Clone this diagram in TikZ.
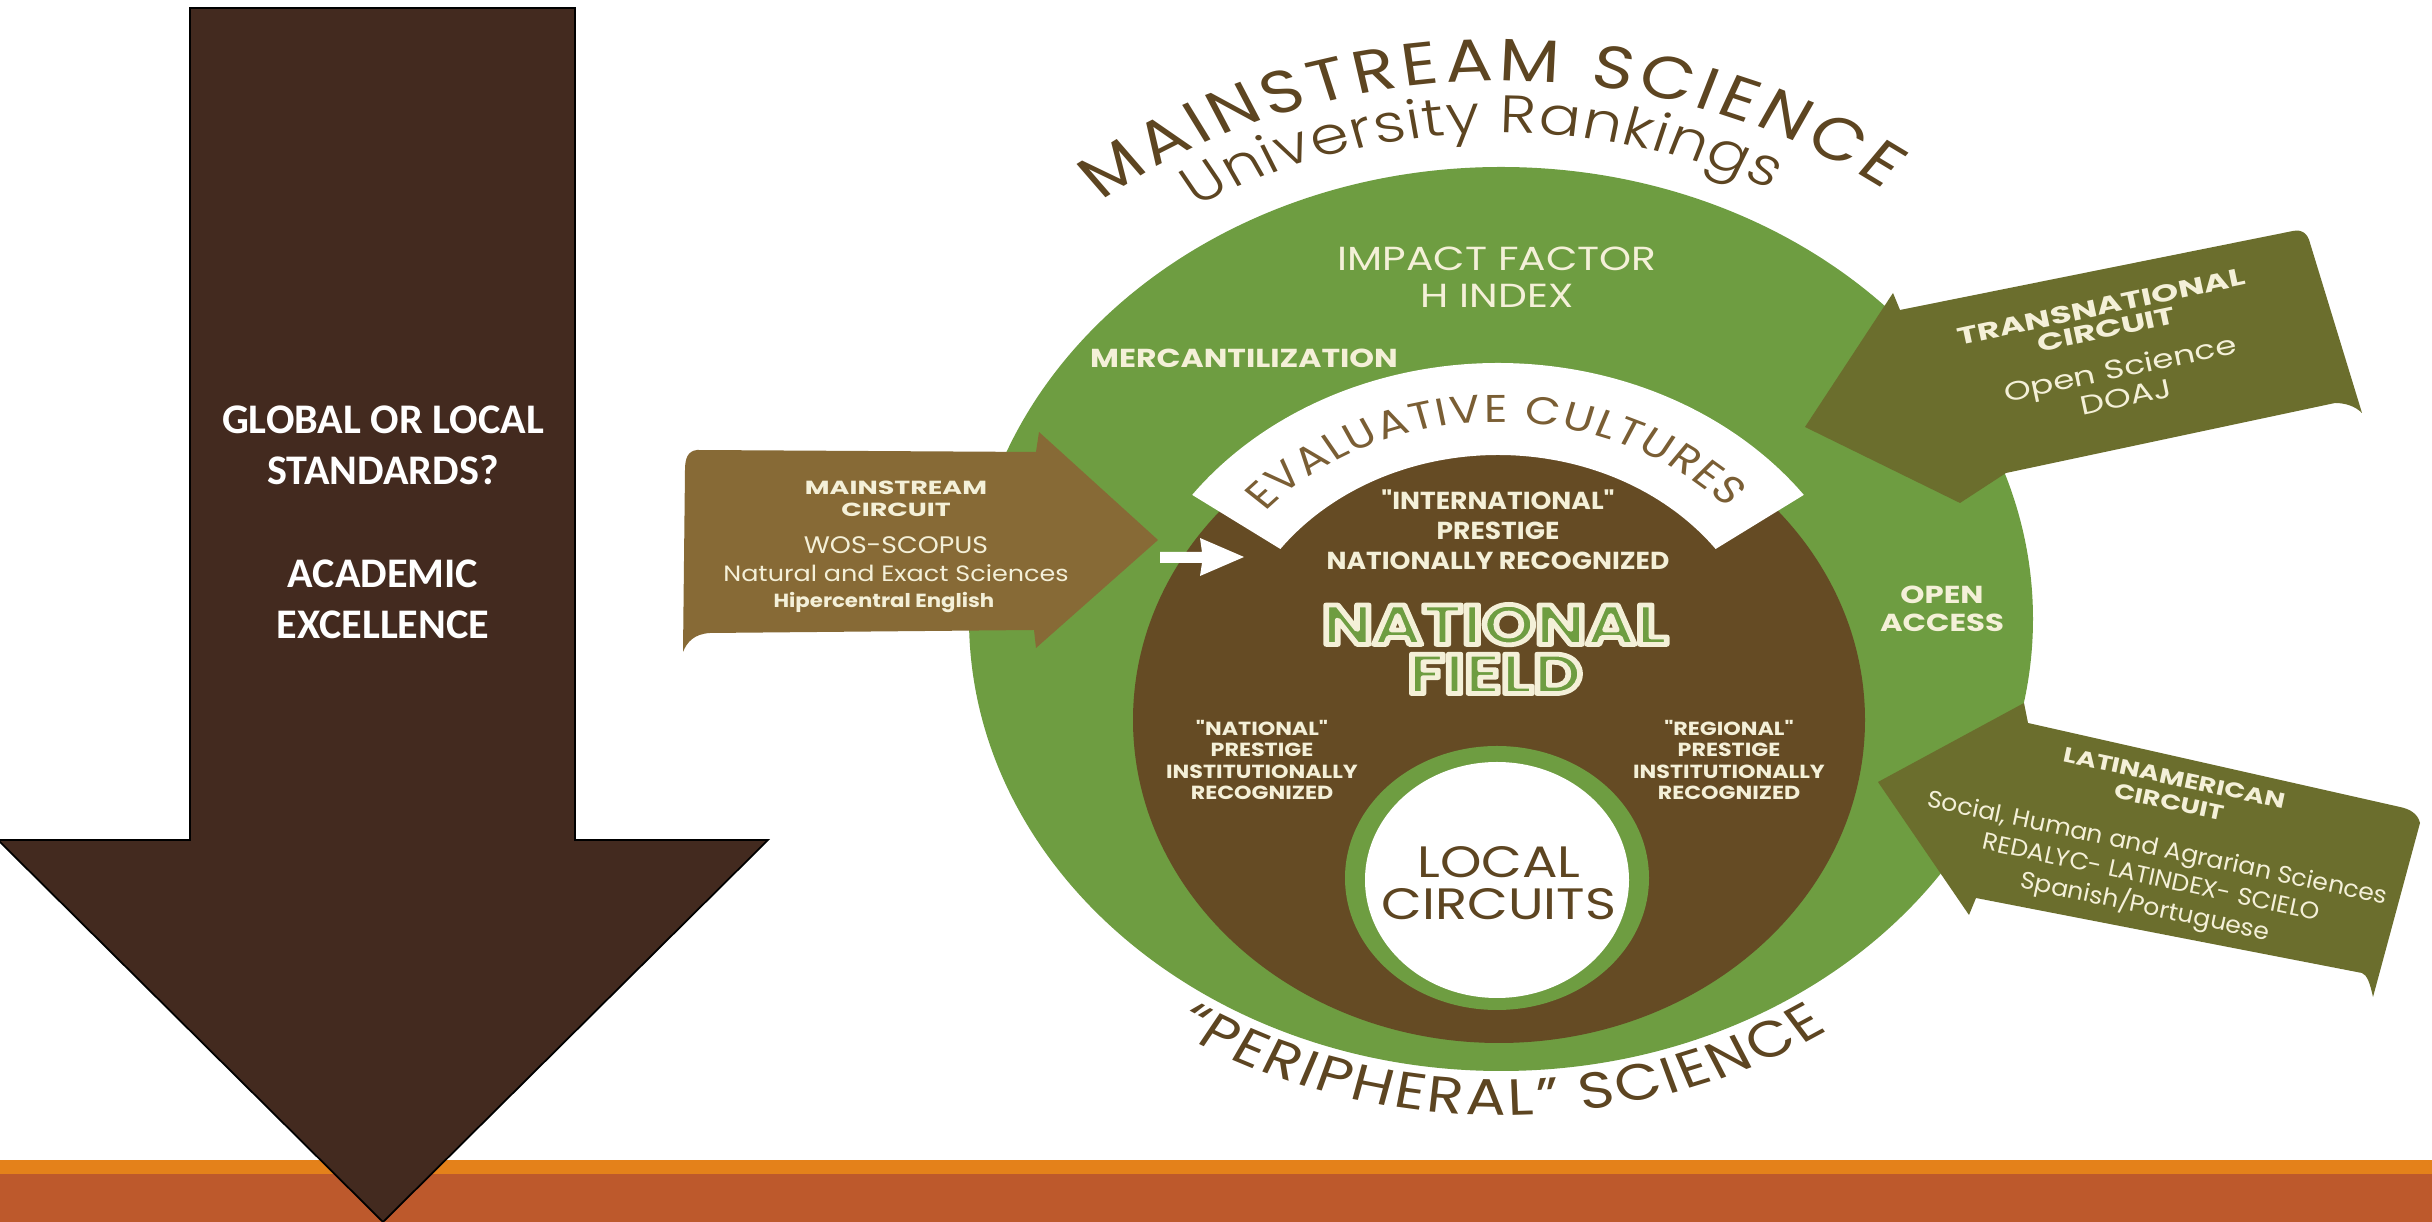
\documentclass[tikz,border=0pt]{standalone}
\usepackage{fontspec}
\usetikzlibrary{decorations.text}
\setmainfont{Carlito}
\newfontfamily\circfont{Poppins}
\IfFontExistsTF{Poppins Light}{\newfontfamily\thinfont{Poppins Light}}{\newfontfamily\thinfont{Poppins}}

\definecolor{arrowbrown}{HTML}{432A1F}
\definecolor{stripeorange}{HTML}{E4811A}
\definecolor{stripebrick}{HTML}{BD592C}
\definecolor{circgreen}{HTML}{6E9D41}
\definecolor{fieldbrown}{HTML}{654B24}
\definecolor{msbrown}{HTML}{876A36}
\definecolor{olive}{HTML}{6B6E2D}
\definecolor{textbrown}{HTML}{5D4521}
\definecolor{evalbrown}{HTML}{7A5E34}
\definecolor{cream}{HTML}{F4F0D8}

% green letters with a cream rim (stroked text)
\newcommand\rimmed[1]{{\color{circgreen}\special{pdf:literal direct 0.957 0.941 0.847 RG 1.35 w 1 j 2 Tr}#1\special{pdf:literal direct 0 Tr}}}

\begin{document}
\begin{tikzpicture}[every node/.style={font=\circfont, align=center, inner sep=0pt},
  lbl/.style={text=cream}]
\useasboundingbox (0,0) rectangle (24.32,-12.22);
\fill[white] (0,0) rectangle (24.32,-12.22);

\fill[stripeorange] (0,-11.60) rectangle (24.32,-11.74);
\fill[stripebrick] (0,-11.74) rectangle (24.32,-12.22);

\draw[fill=arrowbrown, line width=0.5pt] (1.90,-0.08) -- (5.75,-0.08) -- (5.75,-8.40) -- (7.68,-8.40)
  -- (3.83,-12.22) -- (-0.02,-8.40) -- (1.90,-8.40) -- cycle;
\node[text=white, font=\fontsize{12}{14.5}\selectfont\bfseries] (std) at (3.83,-4.45) {GLOBAL OR LOCAL\\STANDARDS?};
\node[text=white, font=\fontsize{12}{14.5}\selectfont\bfseries] (exc) at (3.83,-5.99) {ACADEMIC\\EXCELLENCE};

\fill[circgreen] (15.01,-6.19) ellipse [x radius=5.32, y radius=4.52];
\fill[fieldbrown] (14.99,-7.20) ellipse [x radius=3.66, y radius=3.23];
\coordinate (band) at (14.98,-6.83);
\fill[white, shift={(band)}] (144:3.78 and 3.20) arc [start angle=144, end angle=36, x radius=3.78, y radius=3.20]
  -- (36:2.69 and 2.28) arc [start angle=36, end angle=144, x radius=2.69, y radius=2.28] -- cycle;
\fill[circgreen] (14.97,-8.78) ellipse [x radius=1.52, y radius=1.32];
\fill[white] (14.97,-8.80) ellipse [x radius=1.32, y radius=1.18];

\begin{scope}[transform canvas={shift={(15.01,-6.19)}, xscale=1.18}]
\path[decorate, decoration={text along path, text color=textbrown, text align={fit to path},
  text={|\circfont\fontsize{17}{19}\selectfont|MAINSTREAM SCIENCE}}]
  (129:5.38) arc [start angle=129, end angle=53, radius=5.38];
\path[decorate, decoration={text along path, text color=textbrown, text align={fit to path},
  text={|\thinfont\fontsize{15}{17}\selectfont|University Rankings}}]
  (122:4.86) arc [start angle=122, end angle=62, radius=4.86];
\path[decorate, decoration={text along path, text color=textbrown, text align={fit to path},
  text={|\circfont\fontsize{14.5}{16}\selectfont|“PERIPHERAL” SCIENCE}}]
  (236:4.96) arc [start angle=236, end angle=304, radius=4.96];
\end{scope}
\begin{scope}[transform canvas={shift={(14.98,-6.83)}, xscale=1.18}]
\path[decorate, decoration={text along path, text color=evalbrown, text align={fit to path},
  text={|\circfont\fontsize{11}{12}\selectfont|EVALUATIVE CULTURES}}]
  (139:2.61) arc [start angle=139, end angle=42, radius=2.61];
\end{scope}

\fill[msbrown] (6.97,-4.50) -- (10.36,-4.52) -- (10.39,-4.32) -- (11.58,-5.40) -- (10.36,-6.48) -- (10.34,-6.30)
  -- (7.10,-6.33) .. controls (6.94,-6.34) and (6.87,-6.42) .. (6.83,-6.52)
  -- (6.85,-4.70) .. controls (6.85,-4.58) and (6.88,-4.51) .. (6.97,-4.50) -- cycle;
\fill[white] (11.60,-5.52) -- (12.02,-5.52) -- (12.00,-5.38) -- (12.44,-5.57) -- (12.00,-5.76) -- (12.02,-5.63)
  -- (11.60,-5.63) -- cycle;
\fill[olive] (18.05,-4.27) -- (18.93,-2.93) -- (19.00,-3.10) -- (22.93,-2.31)
  .. controls (23.02,-2.29) and (23.08,-2.34) .. (23.10,-2.43) -- (23.62,-4.13)
  .. controls (23.55,-4.06) and (23.45,-4.03) .. (23.35,-4.03) -- (20.06,-4.73) -- (19.60,-5.03) -- cycle;
\fill[olive] (18.78,-7.82) -- (20.24,-7.03) -- (20.28,-7.23) -- (24.00,-8.07)
  .. controls (24.10,-8.09) and (24.18,-8.14) .. (24.20,-8.23) -- (23.73,-9.97)
  .. controls (23.70,-9.83) and (23.67,-9.75) .. (23.62,-9.73) -- (19.76,-8.98) -- (19.69,-9.15) -- cycle;

\node[lbl, font=\circfont\fontsize{9.5}{10.5}\selectfont, xscale=1.22] (impact) at (14.97,-2.77) {IMPACT FACTOR\\H INDEX};
\node[lbl, font=\circfont\bfseries\fontsize{7.4}{9}\selectfont, xscale=1.21] (merc) at (12.44,-3.58) {MERCANTILIZATION};
\node[lbl, font=\circfont\bfseries\fontsize{7}{8.6}\selectfont, xscale=1.08] (intl) at (14.98,-5.30) {"INTERNATIONAL"\\PRESTIGE\\NATIONALLY RECOGNIZED};
\node[font=\circfont\bfseries\fontsize{16}{14}\selectfont, xscale=1.2] (natfield) at (14.95,-6.49)
  {\rimmed{NATIONAL}\\\rimmed{FIELD}};
\node[lbl, font=\circfont\bfseries\fontsize{5.4}{6}\selectfont, xscale=1.17] (natpres) at (12.62,-7.60) {"NATIONAL"\\PRESTIGE\\INSTITUTIONALLY\\RECOGNIZED};
\node[lbl, font=\circfont\bfseries\fontsize{5.4}{6}\selectfont, xscale=1.17] (regpres) at (17.29,-7.60) {"REGIONAL"\\PRESTIGE\\INSTITUTIONALLY\\RECOGNIZED};
\node[text=textbrown, font=\circfont\fontsize{12.5}{12}\selectfont, xscale=1.2] (local) at (14.99,-8.83) {LOCAL\\CIRCUITS};
\node[lbl, font=\circfont\bfseries\fontsize{7}{8}\selectfont, xscale=1.25] (oa) at (19.42,-6.09) {OPEN\\ACCESS};

\node[lbl, font=\circfont\bfseries\fontsize{5.4}{6.3}\selectfont, xscale=1.42] (mstitle) at (8.96,-4.99) {MAINSTREAM\\CIRCUIT};
\node[lbl, font=\circfont\fontsize{6.8}{8}\selectfont, xscale=1.12] (wos) at (8.96,-5.45) {WOS-SCOPUS};
\node[lbl, font=\circfont\fontsize{6.3}{8}\selectfont, xscale=1.15] (nat) at (8.96,-5.73) {Natural and Exact Sciences};
\node[lbl, font=\circfont\bfseries\fontsize{5.4}{6}\selectfont, xscale=1.12] (mslang) at (8.84,-6.03) {Hipercentral English};

\node[lbl, rotate=12, font=\circfont\bfseries\fontsize{6.8}{6.6}\selectfont, xscale=1.45] (tntitle) at (21.04,-3.18) {TRANSNATIONAL\\CIRCUIT};
\node[lbl, rotate=12, font=\circfont\fontsize{7.5}{7.1}\selectfont, xscale=1.3] (tnbody) at (21.23,-3.82) {Open Science\\DOAJ};

\node[lbl, rotate=-12, font=\circfont\bfseries\fontsize{6}{7}\selectfont, xscale=1.3] (latitle) at (21.72,-7.90) {LATINAMERICAN\\CIRCUIT};
\node[lbl, rotate=-12, font=\circfont\fontsize{6.8}{8.5}\selectfont, xscale=1.05] (labody) at (21.51,-8.79)
  {Social, Human and Agrarian Sciences\\REDALYC- LATINDEX- SCIELO\\Spanish/Portuguese};
\end{tikzpicture}
\end{document}
